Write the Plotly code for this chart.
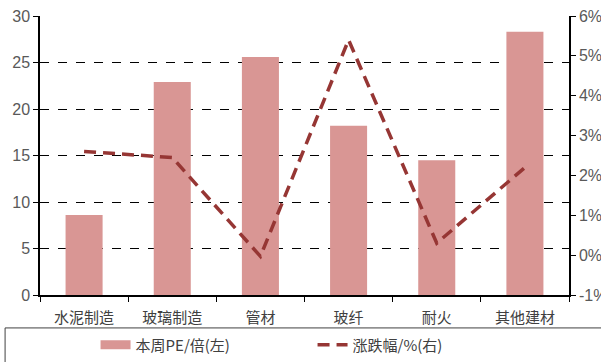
import plotly.graph_objects as go

categories = ["水泥制造", "玻璃制造", "管材", "玻纤", "耐火", "其他建材"]
pe_values = [8.6, 22.9, 25.6, 18.2, 14.5, 28.3]
change_pct = [2.6, 2.45, -0.03, 5.4, 0.3, 2.2]
left_ticks = [0, 5, 10, 15, 20, 25, 30]
right_ticks = [-1, 0, 1, 2, 3, 4, 5, 6]
right_labels = [f"{v}%" for v in right_ticks]

bar_color = "#D99694"
line_color = "#963634"
font_cjk = "Noto Sans CJK SC"
font_num = "Liberation Sans"

fig = go.Figure()
fig.add_trace(go.Bar(x=categories, y=pe_values, marker=dict(color=bar_color, line=dict(width=0)),
                     width=0.42, showlegend=False, yaxis="y"))
fig.add_trace(go.Scatter(x=categories, y=change_pct, mode="lines", yaxis="y2",
                         line=dict(color=line_color, width=3.5, dash="12px,7px"),
                         showlegend=False))
# legend entries
fig.add_trace(go.Scatter(x=[None], y=[None], mode="lines", name="本周PE/倍(左)",
                         line=dict(color=bar_color, width=9)))
fig.add_trace(go.Scatter(x=[None], y=[None], mode="lines", name="涨跌幅/%(右)", yaxis="y2",
                         line=dict(color=line_color, width=3.5, dash="12px,7px")))

fig.update_layout(
    width=601, height=362,
    margin=dict(l=40, r=32, t=16, b=67),
    paper_bgcolor="white", plot_bgcolor="white",
    xaxis=dict(showline=True, linecolor="black", linewidth=1.5, ticks="outside", tickson="boundaries",
               ticklen=5, tickcolor="black", ticklabelstandoff=8, automargin=False,
               tickfont=dict(family=font_cjk, size=15, color="#404040"),
               showgrid=False, zeroline=False),
    yaxis=dict(range=[0, 30], tickvals=left_ticks, showline=True, linecolor="black", linewidth=1.5,
               ticks="outside", ticklen=5, tickcolor="black", automargin=False,
               tickfont=dict(family=font_num, size=16, color="#595959"),
               showgrid=True, gridcolor="black", griddash="dash", gridwidth=1, zeroline=False),
    yaxis2=dict(range=[-1, 6], tickvals=right_ticks, ticktext=right_labels, overlaying="y", side="right",
                showline=True, linecolor="black", linewidth=1.5, ticks="outside", ticklen=5,
                tickcolor="black", tickfont=dict(family=font_num, size=16, color="#595959"),
                showgrid=False, zeroline=False, automargin=False),
    legend=dict(orientation="h", x=0.105, xanchor="left", yref="container", y=0.047, yanchor="middle",
                entrywidth=172, entrywidthmode="pixels",
                font=dict(family=font_cjk, size=15, color="#404040"), bgcolor="rgba(0,0,0,0)"),
    shapes=[dict(type="rect", xref="paper", yref="paper", x0=-0.066, x1=1.07, y0=-0.118, y1=-0.26,
                 line=dict(color="#404040", width=1))],
)

fig.write_html("out.html")
